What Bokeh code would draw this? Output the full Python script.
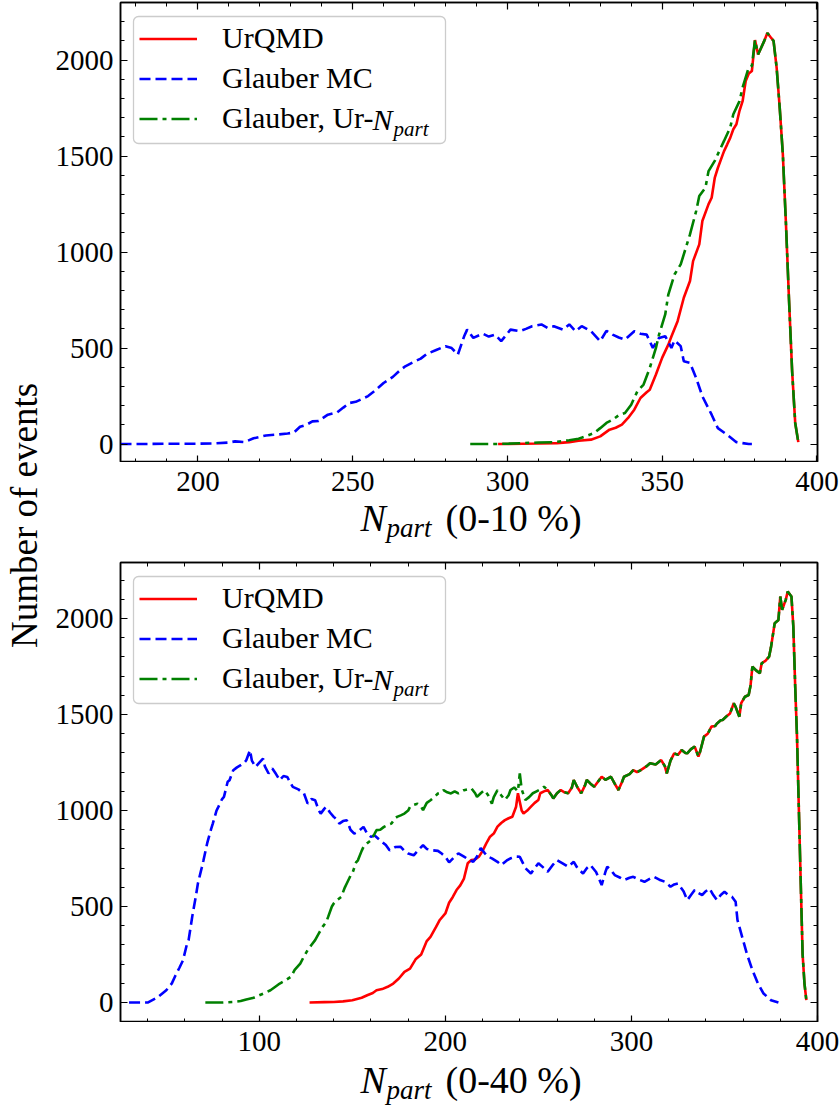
import math
from bokeh.plotting import figure
from bokeh.layouts import row, column
from bokeh.models import (Range1d, LinearAxis, Label, Legend, LegendItem, BoxAnnotation,
                          SingleIntervalTicker, CustomJSTickFormatter)
from bokeh.embed import file_html
from bokeh.resources import INLINE

# ---------------- data: 0-10 % centrality ----------------
top_mc_x = [175, 180, 190, 200, 205, 210, 212, 215, 218, 222, 226, 229, 231, 233, 235, 237, 239,
            242, 245, 247, 249, 251, 253, 255, 257, 260, 263, 265, 267, 270, 272, 274, 277, 280,
            282, 284, 286, 287, 289, 292, 294, 296, 298, 301, 304, 306, 308, 311, 313, 315, 318,
            320, 322, 324, 327, 330, 332, 334, 336, 338, 341, 343, 345, 347, 349, 351, 353, 354,
            356, 357, 359, 361, 363, 366, 368, 371, 374, 376, 378, 379]
top_mc_y = [0, 0, 2, 2, 3, 8, 14, 10, 30, 45, 50, 55, 60, 90, 100, 118, 120,
            153, 165, 190, 214, 220, 235, 250, 275, 318, 350, 380, 405, 430, 445, 470, 490, 510,
            500, 466, 560, 596, 553, 575, 560, 570, 536, 596, 588, 600, 614, 623, 605, 614, 596,
            623, 588, 614, 588, 536, 590, 570, 555, 544, 588, 575, 570, 501, 553, 562, 501, 540,
            510, 431, 423, 344, 249, 153, 83, 49, 10, 5, 0, 0]

top_ur_x = [297, 300, 305, 310, 316, 320, 323, 327, 330, 333, 335, 337, 339, 341, 343, 345, 346,
            348, 350, 352, 353, 355, 357, 359, 360, 362, 363, 365, 366, 367, 368, 370, 371, 372,
            373, 374, 375, 376, 377, 378, 379]
top_ur_y = [0, 0, 2, 3, 5, 10, 17, 23, 40, 75, 85, 101, 136, 179, 240, 270, 283,
            362, 449, 518, 560, 640, 762, 849, 953, 1040, 1162, 1250, 1283, 1386, 1438, 1526, 1560, 1595,
            1640, 1666, 1736, 1786, 1891, 1930, 1943]

top_gl_x = [288, 295, 300, 305, 310, 315, 320, 323, 326, 328, 330, 332, 334, 336, 338, 340, 342,
            344, 346, 348, 349, 351, 352, 354, 356, 357, 359, 361, 362, 364, 365, 367, 368, 370,
            372, 373, 375, 376, 378, 379]
top_gl_y = [0, 0, 2, 5, 8, 10, 20, 28, 45, 57, 83, 110, 127, 150, 162, 205, 275,
            310, 396, 501, 570, 675, 779, 883, 936, 988, 1092, 1214, 1292, 1336, 1422, 1475, 1510, 1579,
            1649, 1718, 1786, 1857, 1962, 1970]

# peak region where both UrQMD-based curves coincide
top_tail_x = [380, 381, 382, 383, 384, 385, 386, 387, 388, 389, 390, 391, 392, 393, 394]
top_tail_y = [2104, 2030, 2064, 2100, 2141, 2120, 2100, 1960, 1750, 1510, 1150, 750, 380, 110, 10]

# ---------------- data: 0-40 % centrality ----------------
bot_mc_x = [30, 35, 40, 45, 50, 53, 55, 57, 59, 61, 62, 64, 66, 67, 69, 70, 72, 74, 75, 77, 78,
            80, 81, 83, 84, 86, 88, 90, 92, 93, 95, 96, 98, 100, 102, 103, 105, 107, 109, 111,
            113, 115, 117, 118, 121, 124, 126, 128, 130, 132, 133, 135, 136, 138, 140, 142, 143,
            145, 147, 149, 151, 153, 156, 158, 160, 162, 165, 168, 170, 173, 176, 178, 180, 183,
            186, 188, 190, 193, 196, 198, 200, 202, 205, 207, 210, 213, 215, 217, 219, 221, 223,
            225, 228, 230, 233, 235, 238, 240, 243, 246, 248, 250, 253, 255, 258, 260, 263, 266,
            269, 271, 274, 276, 278, 281, 284, 286, 287, 289, 291, 294, 296, 299, 301, 304, 307,
            310, 312, 315, 318, 321, 323, 325, 328, 330, 332, 334, 336, 338, 340, 342, 344, 346,
            348, 350, 352, 354, 356, 357, 360, 362, 365, 368, 371, 375, 379]
bot_mc_y = [0, 0, 0, 25, 64, 100, 142, 180, 220, 300, 325, 450, 560, 620, 700, 741, 830, 900, 932,
            1000, 1019, 1060, 1071, 1150, 1158, 1210, 1225, 1236, 1250, 1262, 1314, 1260, 1227,
            1250, 1271, 1230, 1193, 1219, 1190, 1158, 1180, 1175, 1140, 1123, 1110, 1089, 1036,
            1060, 1054, 1000, 984, 1010, 1019, 990, 967, 950, 932, 945, 950, 900, 880, 890, 915,
            880, 863, 870, 845, 820, 793, 810, 811, 790, 776, 767, 800, 819, 800, 793, 790, 776,
            760, 730, 760, 777, 760, 742, 733, 760, 805, 780, 759, 751, 733, 716, 740, 751, 760,
            759, 700, 672, 700, 725, 700, 681, 720, 742, 725, 707, 733, 700, 672, 700, 716, 680,
            612, 680, 707, 690, 664, 650, 638, 650, 655, 640, 629, 645, 655, 640, 629, 603, 615,
            620, 580, 533, 560, 586, 570, 560, 580, 594, 560, 533, 560, 577, 560, 551, 525, 429,
            325, 255, 169, 99, 47, 12, 0]

bot_ur_x = [127, 135, 140, 145, 150, 155, 158, 161, 163, 166, 169, 172, 175, 178, 181, 184, 187,
            190, 192, 195, 197, 200, 202, 204, 206, 208, 210, 212, 214, 216, 218, 220, 222, 224,
            226, 228, 230, 232, 234, 236, 238, 239, 241, 242, 244, 246, 248, 250, 251, 253]
bot_ur_y = [0, 2, 3, 6, 12, 25, 38, 50, 64, 70, 82, 99, 125, 160, 177, 225, 250,
            320, 342, 394, 430, 464, 520, 550, 586, 610, 646, 725, 742, 745, 759, 790, 829, 864,
            880, 916, 935, 950, 960, 968, 1020, 1090, 1000, 985, 1000, 1020, 1040, 1055, 1090, 1100]

bot_gl_x = [71, 80, 86, 90, 93, 97, 100, 103, 106, 109, 111, 114, 117, 119, 122, 124, 126, 128,
            130, 132, 134, 136, 137, 139, 140, 142, 144, 146, 147, 149, 150, 152, 153, 155, 156,
            158, 160, 162, 163, 165, 167, 169, 171, 173, 174, 176, 178, 180, 181, 183, 185, 187,
            188, 190, 192, 194, 196, 198, 199, 201, 203, 205, 207, 209, 210, 212, 214, 216, 217,
            219, 221, 223, 225, 226, 228, 230, 232, 234, 235, 237, 239, 240, 241, 243, 245, 247,
            249, 251, 253]
bot_gl_y = [0, 0, 3, 8, 16, 25, 38, 50, 64, 85, 99, 115, 134, 170, 203, 240, 273, 300,
            325, 360, 394, 420, 446, 500, 516, 535, 550, 600, 620, 660, 672, 730, 741, 790, 811,
            830, 845, 880, 898, 900, 915, 925, 932, 960, 967, 975, 984, 1000, 1019, 1030, 1036, 1020,
            1002, 1040, 1054, 1070, 1089, 1095, 1106, 1095, 1089, 1100, 1089, 1100, 1106, 1110, 1115,
            1090, 1071, 1090, 1106, 1080, 1036, 1070, 1106, 1080, 1055, 1080, 1107, 1120, 1100, 1194,
            1110, 1055, 1070, 1090, 1100, 1110, 1124]

# region where both UrQMD-based curves coincide
bot_tail_x = [255, 257, 258, 260, 262, 264, 266, 268, 269, 271, 273, 275, 276, 278, 280, 282, 284,
              286, 289, 291, 293, 295, 296, 299, 301, 303, 305, 308, 310, 313, 316, 318, 319, 321,
              323, 325, 327, 329, 330, 332, 334, 336, 337, 339, 341, 343, 345, 346, 348, 349, 351,
              353, 355, 356, 358, 359, 361, 363, 364, 365, 367, 369, 370, 372, 374, 375, 377, 379,
              380, 381, 383, 384, 386, 387, 388, 389, 390, 391, 392, 393, 394]
bot_tail_y = [1107, 1080, 1063, 1090, 1107, 1095, 1090, 1120, 1159, 1120, 1090, 1130, 1159, 1140,
              1124, 1150, 1176, 1160, 1176, 1140, 1107, 1150, 1176, 1190, 1211, 1200, 1211, 1230,
              1246, 1240, 1263, 1230, 1194, 1260, 1298, 1290, 1315, 1300, 1298, 1320, 1333, 1281,
              1310, 1385, 1400, 1437, 1440, 1454, 1470, 1472, 1490, 1506, 1559, 1540, 1489, 1560,
              1593, 1602, 1650, 1750, 1730, 1715, 1767, 1780, 1802, 1850, 1976, 1993, 2115, 2045,
              2100, 2141, 2115, 1960, 1650, 1380, 1000, 620, 250, 99, 12]

labels = ["UrQMD", "Glauber MC", "Glauber, Ur-"]
xlabel_ranges = ["(0-10 %)", "(0-40 %)"]
ylabel = "Number of events"

SERIF = "Liberation Serif"
W_MAIN = 790


def style_axis(ax, ticker, show_labels=True):
    ax.ticker = ticker
    ax.axis_line_color = "black"
    ax.axis_line_width = 1.5
    ax.major_tick_in = 7
    ax.major_tick_out = 0
    ax.minor_tick_in = 4
    ax.minor_tick_out = 0
    ax.major_tick_line_color = "black"
    ax.minor_tick_line_color = "black"
    ax.major_tick_line_width = 1.2
    ax.minor_tick_line_width = 1.0
    if show_labels:
        ax.major_label_text_font = SERIF
        ax.major_label_text_font_size = "29px"
        ax.major_label_text_color = "black"
    else:
        ax.formatter = CustomJSTickFormatter(code="return ''")
        ax.major_label_text_font_size = "0px"
        ax.major_label_standoff = 0


def panel(height, xr, yr, xint, ur_x, ur_y, mc_x, mc_y, gl_x, gl_y):
    p = figure(width=W_MAIN, height=height, x_range=xr, y_range=Range1d(*yr),
               toolbar_location=None, output_backend="svg",
               min_border_left=70, min_border_right=23, min_border_top=2,
               min_border_bottom=0)
    p.xgrid.visible = False
    p.ygrid.visible = False
    p.outline_line_color = "black"
    p.outline_line_width = 1.5

    # bottom axis: ticks only (its numbers are drawn by the strip below the panel)
    style_axis(p.xaxis[0], SingleIntervalTicker(interval=xint, num_minor_ticks=5), False)
    style_axis(p.yaxis[0], SingleIntervalTicker(interval=500, num_minor_ticks=5))
    p.yaxis[0].major_label_standoff = 7
    top_ax = LinearAxis()
    style_axis(top_ax, SingleIntervalTicker(interval=xint, num_minor_ticks=5), False)
    right_ax = LinearAxis()
    style_axis(right_ax, SingleIntervalTicker(interval=500, num_minor_ticks=5), False)
    p.add_layout(top_ax, "above")
    p.add_layout(right_ax, "right")

    r_ur = p.line(ur_x, ur_y, line_color="#ff0000", line_width=2.6)
    r_mc = p.line(mc_x, mc_y, line_color="#0000ff", line_width=2.6, line_dash="11 5")
    r_gl = p.line(gl_x, gl_y, line_color="#008000", line_width=2.6, line_dash="18 5 4 5")

    # legend frame (semi-transparent white box with light grey rounded border)
    box = BoxAnnotation(left=13, right=325, top=446, bottom=319,
                        left_units="screen", right_units="screen",
                        top_units="screen", bottom_units="screen",
                        fill_color="white", fill_alpha=0.8,
                        line_color="#cccccc", line_width=1.3, line_alpha=1.0)
    if "border_radius" in BoxAnnotation.properties():
        box.border_radius = 5
    p.add_layout(box)

    leg = Legend(items=[LegendItem(label=labels[0], renderers=[r_ur]),
                        LegendItem(label=labels[1], renderers=[r_mc]),
                        LegendItem(label=labels[2], renderers=[r_gl])],
                 location="top_left")
    leg.label_text_font = SERIF
    leg.label_text_font_size = "30px"
    leg.label_text_color = "black"
    leg.glyph_width = 58
    leg.glyph_height = 29
    leg.label_height = 29
    leg.label_standoff = 25
    leg.padding = 7
    leg.spacing = 6
    leg.margin = 19
    leg.border_line_color = None
    leg.background_fill_alpha = 0.0
    p.add_layout(leg)

    # italic N with subscript "part" after "Ur-" in the legend
    p.add_layout(Label(x=252, y=343, x_units="screen", y_units="screen", text="N",
                       text_font=SERIF, text_font_size="30px", text_font_style="italic",
                       text_baseline="middle", text_align="left", text_color="black",
                       level="overlay"))
    p.add_layout(Label(x=273, y=334, x_units="screen", y_units="screen", text="part",
                       text_font=SERIF, text_font_size="21px", text_font_style="italic",
                       text_baseline="middle", text_align="left", text_color="black",
                       level="overlay"))
    return p


def xlabel_fig(height, xr, xint, top_pad, mid, rng):
    # strip under a panel: the x tick numbers (axis above) plus the x-axis title
    f = figure(width=W_MAIN, height=height, x_range=xr, y_range=Range1d(0, 1),
               toolbar_location=None, output_backend="svg",
               min_border_left=70, min_border_right=23, min_border_top=top_pad,
               min_border_bottom=0, x_axis_location="above", y_axis_type=None)
    f.outline_line_color = None
    f.xgrid.visible = False
    f.ygrid.visible = False
    ax = f.xaxis[0]
    ax.ticker = SingleIntervalTicker(interval=xint, num_minor_ticks=5)
    ax.axis_line_color = None
    ax.major_tick_line_color = None
    ax.minor_tick_line_color = None
    ax.major_tick_in = 0
    ax.major_tick_out = 0
    ax.minor_tick_in = 0
    ax.minor_tick_out = 0
    ax.major_label_standoff = 0
    ax.major_label_text_font = SERIF
    ax.major_label_text_font_size = "29px"
    ax.major_label_text_color = "black"
    f.add_layout(Label(x=240, y=mid, x_units="screen", y_units="screen", text="N",
                       text_font=SERIF, text_font_size="38px", text_font_style="italic",
                       text_baseline="middle", text_align="left", text_color="black"))
    f.add_layout(Label(x=266, y=mid - 10, x_units="screen", y_units="screen", text="part",
                       text_font=SERIF, text_font_size="27px", text_font_style="italic",
                       text_baseline="middle", text_align="left", text_color="black"))
    f.add_layout(Label(x=325, y=mid, x_units="screen", y_units="screen", text=rng,
                       text_font=SERIF, text_font_size="38px",
                       text_baseline="middle", text_align="left", text_color="black"))
    return f


xr_top = Range1d(175, 400.2)
xr_bot = Range1d(25.4, 400)

p_top = panel(462, xr_top, (-96, 2300), 50,
              top_ur_x + top_tail_x, top_ur_y + top_tail_y,
              top_mc_x, top_mc_y,
              top_gl_x + top_tail_x, top_gl_y + top_tail_y)
lab_top = xlabel_fig(98, xr_top, 50, 28, 43, xlabel_ranges[0])
p_bot = panel(462, xr_bot, (-104, 2292), 100,
              bot_ur_x + bot_tail_x, bot_ur_y + bot_tail_y,
              bot_mc_x, bot_mc_y,
              bot_gl_x + bot_tail_x, bot_gl_y + bot_tail_y)
lab_bot = xlabel_fig(84, xr_bot, 100, 28, 27, xlabel_ranges[1])

# left strip carrying the shared y-axis title
p_lab = figure(width=50, height=1106, x_range=Range1d(0, 1), y_range=Range1d(0, 1),
               toolbar_location=None, output_backend="svg", min_border=0,
               min_border_top=0, min_border_bottom=76, x_axis_type=None)
p_lab.outline_line_color = None
p_lab.xgrid.visible = False
p_lab.ygrid.visible = False
ya = p_lab.yaxis[0]
ya.axis_label = ylabel
ya.axis_label_text_font = SERIF
ya.axis_label_text_font_size = "37px"
ya.axis_label_text_font_style = "normal"
ya.axis_label_text_color = "black"
ya.axis_label_standoff = 0
ya.axis_line_color = None
ya.major_tick_line_color = None
ya.minor_tick_line_color = None
ya.major_tick_in = 0
ya.major_tick_out = 0
ya.minor_tick_in = 0
ya.minor_tick_out = 0
ya.major_label_standoff = 0
ya.major_label_text_font_size = "0px"
ya.formatter = CustomJSTickFormatter(code="return ''")

layout = row(p_lab, column(p_top, lab_top, p_bot, lab_bot, spacing=0), spacing=0)

open("out.html", "w").write(file_html(layout, INLINE))
